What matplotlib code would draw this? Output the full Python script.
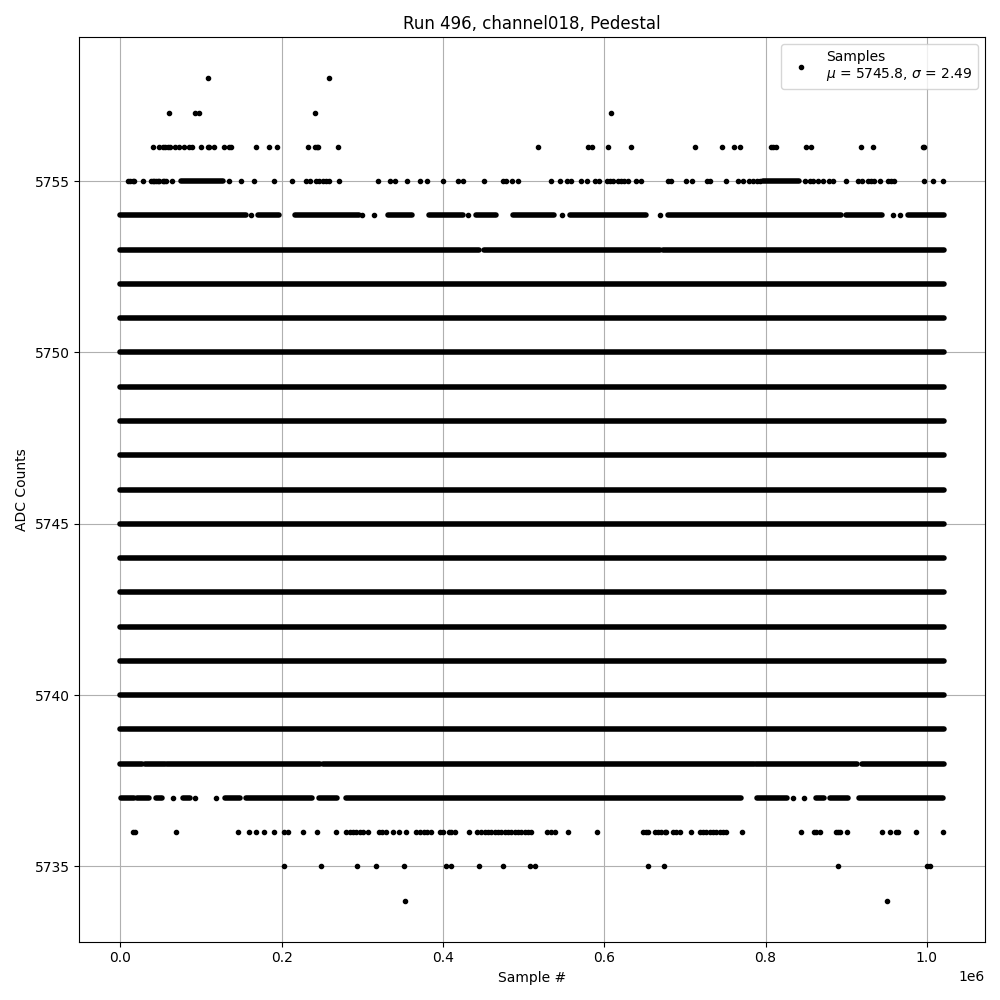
import matplotlib
matplotlib.use("Agg")
import matplotlib.pyplot as plt

# sample indices are in thousands of samples (x 1e3)
n_samples = 1022  # thousand
mean_adc = 5745.8
std_adc = 2.49

# levels where every sample index is filled
full_levels = [5739, 5740, 5741, 5742, 5743, 5744, 5745, 5746,
               5747, 5748, 5749, 5750, 5751, 5752]

# levels with mostly filled runs (start, end) in thousands
runs_5753 = [(0, 445), (451, 669), (673, 1021)]
runs_5754 = [(0, 156), (171, 197), (216, 296), (332, 361), (383, 425),
             (441, 466), (487, 538), (557, 652), (679, 894), (900, 944),
             (977, 1021)]
runs_5755 = [(75, 127), (797, 842)]
runs_5738 = [(0, 27), (31, 55), (58, 247), (251, 785), (788, 913), (920, 1021)]
runs_5737 = [(1, 17), (20, 36), (44, 52), (78, 86), (130, 148), (156, 237),
             (246, 268), (280, 770), (789, 826), (863, 872), (880, 902),
             (916, 1020)]

# isolated samples per level
pts_5758 = [108, 259]
pts_5757 = [60, 92, 98, 241, 608]
pts_5756 = [40, 47.6, 52.5, 55.8, 58.7, 62, 68.2, 72.4, 79.4, 84.8, 88.9,
            100.1, 108.4, 110.4, 115.8, 129, 135.2, 137.3, 167.5, 184, 194,
            232.4, 240.7, 243.6, 244.8, 269.7, 517.8, 579.8, 585.2, 604.6,
            633.6, 712.2, 746.1, 761, 768, 806.5, 809.4, 812.7, 849.5, 856.9,
            918.1, 933.4, 994.6, 996.3]
pts_5755 = [9, 12, 15, 17, 28, 38, 40, 42, 44, 46, 48, 52.5, 54.6, 56.7, 64,
            135, 150, 165, 190, 213, 230, 234.5, 243, 246, 251, 255, 259, 271,
            319, 334, 341, 355, 371, 380, 400, 419, 425, 451, 474, 478.5,
            485.5, 493, 534, 545, 554, 559, 571.5, 579, 588, 594, 603, 607,
            611, 617, 621, 625, 629, 639, 646, 679, 683, 701, 709, 727.5,
            731.6, 751, 766, 772, 780, 784.5, 789, 793, 849, 855, 859, 865,
            871, 878, 884, 899.5, 915, 919, 927, 931, 935, 942, 952, 956,
            959.5, 996, 1008, 1020]
pts_5754 = [162, 299, 314, 431, 547, 669, 958, 966.5]
pts_5737 = [65, 93, 119, 834, 847]
pts_5736 = [15.3, 18.6, 69.1, 145.6, 159.2, 168.3, 177.4, 190.3, 202.2, 207.6,
            226.2, 243.6, 267.6, 280, 284.1, 288.3, 292.4, 296.5, 300.7, 306.9,
            320.5, 324.6, 329.6, 337.9, 345.3, 353.6, 366, 371, 375.9, 380.1,
            385.5, 395.8, 400, 407.4, 410.3, 414.4, 432.2, 442.1, 447.5, 451.6,
            455.8, 459.9, 464, 468.2, 472.3, 476.4, 480.6, 484.7, 488.9, 493,
            497.1, 501.3, 505.4, 509.5, 529, 534.3, 538.5, 555, 591, 648.1,
            651.4, 654.3, 662.5, 666.7, 670.8, 675, 677, 685.3, 689.4, 693.6,
            708, 718.4, 722.5, 726.6, 730.8, 734.9, 739, 743.2, 747.3, 751.5,
            770.9, 843.3, 859.8, 863.1, 867.3, 887.9, 890, 892.1, 901.2, 943.8,
            954.1, 961.6, 964.5, 986.4, 1020.3]
pts_5735 = [202.2, 248.2, 293.2, 317.2, 351.5, 404.1, 410.3, 444.6, 474.4,
            507.5, 513.7, 654.3, 674.1, 890, 999.6, 1003.8]
pts_5734 = [352.4, 950.8]

fig, ax = plt.subplots(figsize=(10, 10), dpi=100)

# filled levels as thick round-capped lines (same width as the dots)
def draw_runs(level, runs):
    starts = [a * 1e3 for a, b in runs]
    ends = [b * 1e3 for a, b in runs]
    lc = ax.hlines([level] * len(runs), starts, ends, colors='k', lw=4)
    lc.set_capstyle('round')

for lvl in full_levels:
    draw_runs(lvl, [(0, n_samples - 1)])
draw_runs(5753, runs_5753)
draw_runs(5754, runs_5754)
draw_runs(5755, runs_5755)
draw_runs(5738, runs_5738)
draw_runs(5737, runs_5737)

# isolated samples
sparse = {5758: pts_5758, 5757: pts_5757, 5756: pts_5756, 5755: pts_5755,
          5754: pts_5754, 5737: pts_5737, 5736: pts_5736, 5735: pts_5735,
          5734: pts_5734}
xs = []
ys = []
for lvl, pts in sparse.items():
    xs += [p * 1e3 for p in pts]
    ys += [lvl] * len(pts)
ax.plot(xs, ys, 'k.', label='Samples\n$\\mu$ = %.1f, $\\sigma$ = %.2f' % (mean_adc, std_adc))

ax.set_title('Run 496, channel018, Pedestal')
ax.set_xlabel('Sample #')
ax.set_ylabel('ADC Counts')
ax.grid(True)
ax.legend(loc='upper right')
plt.tight_layout()
plt.savefig('out.png')
